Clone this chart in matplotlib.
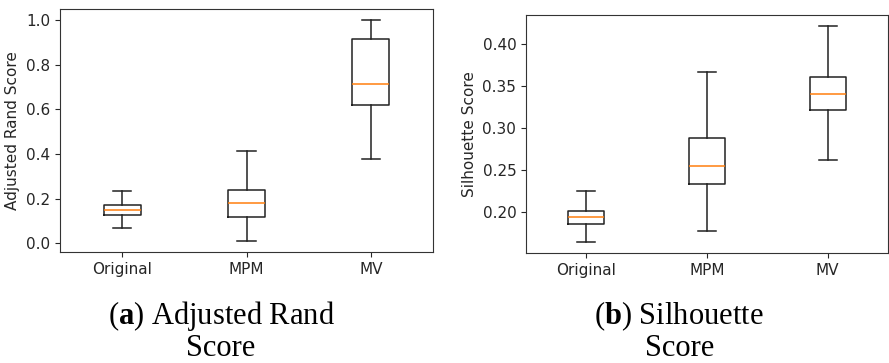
import matplotlib.pyplot as plt

methods = ["Original", "MPM", "MV"]

# box statistics: (whisker low, q1, median, q3, whisker high)
ari_low = [0.067, 0.010, 0.379]
ari_q1 = [0.127, 0.119, 0.618]
ari_med = [0.149, 0.179, 0.713]
ari_q3 = [0.173, 0.239, 0.913]
ari_high = [0.233, 0.415, 1.000]

sil_low = [0.1635, 0.1766, 0.2611]
sil_q1 = [0.1853, 0.2329, 0.3210]
sil_med = [0.1933, 0.2548, 0.3400]
sil_q3 = [0.2012, 0.2873, 0.3607]
sil_high = [0.2246, 0.3667, 0.4214]

plt.rcParams["font.size"] = 11
plt.rcParams["mathtext.fontset"] = "custom"
plt.rcParams["mathtext.rm"] = "Liberation Serif"
plt.rcParams["mathtext.bf"] = "Liberation Serif:bold"
plt.rcParams["text.color"] = "#262626"
plt.rcParams["axes.labelcolor"] = "#262626"
plt.rcParams["xtick.color"] = "#262626"
plt.rcParams["ytick.color"] = "#262626"
plt.rcParams["axes.edgecolor"] = "#333333"


def make_stats(low, q1, med, q3, high):
    return [dict(whislo=a, q1=b, med=c, q3=d, whishi=e, fliers=[], label=m)
            for a, b, c, d, e, m in zip(low, q1, med, q3, high, methods)]


box_style = dict(color="#222222", linewidth=1.1)

fig = plt.figure(figsize=(8.89, 3.63), dpi=100)
ax1 = fig.add_axes([60 / 889, 111 / 363, 373 / 889, 243 / 363])
ax2 = fig.add_axes([526 / 889, 110 / 363, 362 / 889, 238 / 363])

for ax, stats in [(ax1, make_stats(ari_low, ari_q1, ari_med, ari_q3, ari_high)),
                  (ax2, make_stats(sil_low, sil_q1, sil_med, sil_q3, sil_high))]:
    ax.bxp(stats, widths=0.3, boxprops=box_style, whiskerprops=box_style,
           capprops=box_style, medianprops=dict(color="#ff7f0e", linewidth=1.1))

ax1.set_ylabel("Adjusted Rand Score")
ax2.set_ylabel("Silhouette Score")
ax1.set_yticks([0.0, 0.2, 0.4, 0.6, 0.8, 1.0])
ax2.set_yticks([0.20, 0.25, 0.30, 0.35, 0.40])

# sub-captions in serif
cap = dict(ha="center", va="center", fontsize=22, family="Liberation Serif", color="black")
fig.text(221 / 889, 1 - 316 / 363, r"($\mathbf{a}$) Adjusted Rand", **cap)
fig.text(221 / 889, 1 - 349 / 363, "Score", **cap)
fig.text(679 / 889, 1 - 316 / 363, r"($\mathbf{b}$) Silhouette", **cap)
fig.text(680 / 889, 1 - 349 / 363, "Score", **cap)

fig.savefig("out.png", dpi=100)
